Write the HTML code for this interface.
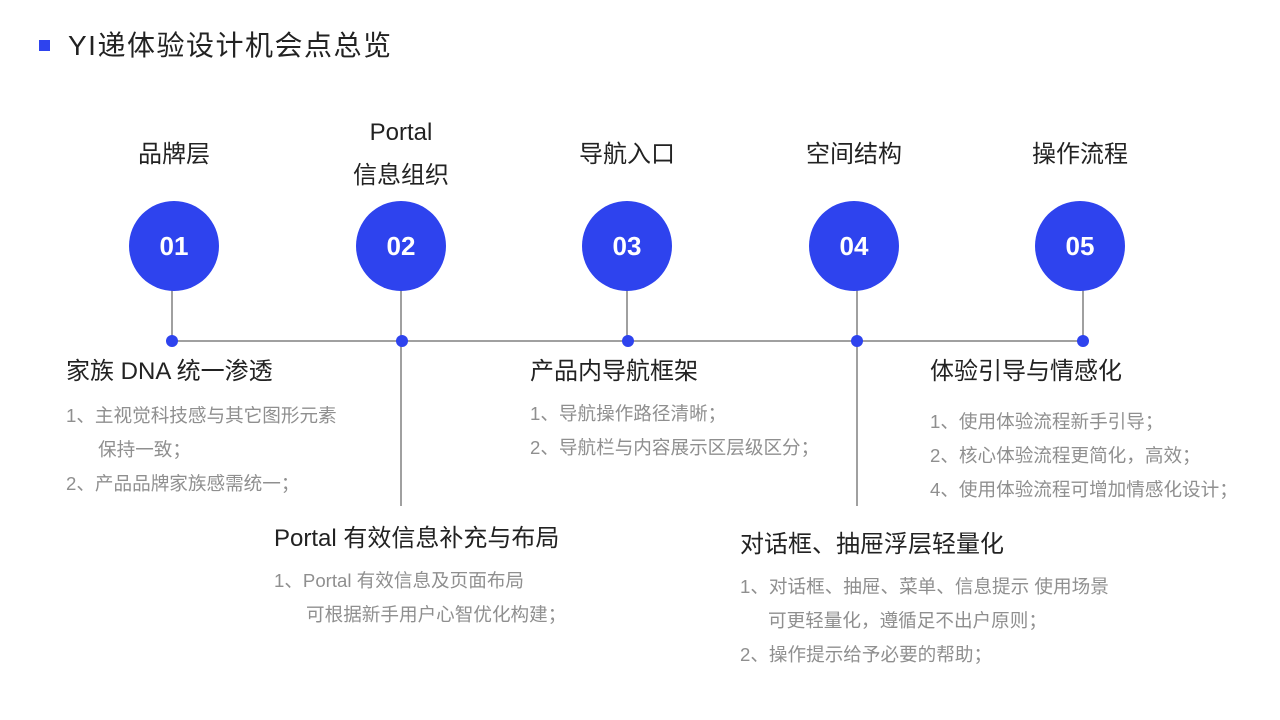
<!DOCTYPE html>
<html><head><meta charset="utf-8"><style>
*{margin:0;padding:0;box-sizing:border-box}
body{width:1280px;height:720px;background:#fff;position:relative;overflow:hidden;font-family:"Liberation Sans","Noto Sans CJK SC",sans-serif}
.t{position:absolute;white-space:nowrap;line-height:30px;height:30px}
.h{font-size:24px;color:#222}
.g{font-size:18.6px;color:#8f8f8f}
.c{position:absolute;width:90px;height:90px;border-radius:50%;background:#2e43ee;color:#fff;font-weight:bold;font-size:26px;display:flex;align-items:center;justify-content:center;top:201px}
.v{position:absolute;width:2px;background:#a0a0a0}
.d{position:absolute;width:12px;height:12px;border-radius:50%;background:#2e43ee;top:335px}
.lab{position:absolute;width:200px;text-align:center;font-size:24px;color:#222;line-height:30px}
</style></head><body>
<div style="position:absolute;left:39px;top:40px;width:11px;height:11px;background:#2e43ee"></div>
<div class="t" style="left:68px;top:31px;font-size:28px;letter-spacing:1.5px;color:#222">YI递体验设计机会点总览</div>

<div class="v" style="left:172px;top:340px;width:912px;height:2px"></div>
<div class="v" style="left:171px;top:290px;height:50px"></div>
<div class="v" style="left:400px;top:290px;height:216px"></div>
<div class="v" style="left:626px;top:290px;height:50px"></div>
<div class="v" style="left:856px;top:290px;height:216px"></div>
<div class="v" style="left:1082px;top:290px;height:50px"></div>

<div class="c" style="left:129px">01</div>
<div class="c" style="left:356px">02</div>
<div class="c" style="left:582px">03</div>
<div class="c" style="left:809px">04</div>
<div class="c" style="left:1035px">05</div>

<div class="d" style="left:166px"></div>
<div class="d" style="left:396px"></div>
<div class="d" style="left:622px"></div>
<div class="d" style="left:851px"></div>
<div class="d" style="left:1077px"></div>

<div class="lab" style="left:74px;top:140px">品牌层</div>
<div class="lab" style="left:301px;top:118px">Portal</div>
<div class="lab" style="left:301px;top:161px">信息组织</div>
<div class="lab" style="left:527px;top:140px">导航入口</div>
<div class="lab" style="left:754px;top:140px">空间结构</div>
<div class="lab" style="left:980px;top:140px">操作流程</div>

<div class="t h" style="left:66px;top:357px">家族 DNA 统一渗透</div>
<div class="t g" style="left:66px;top:401px">1、主视觉科技感与其它图形元素</div>
<div class="t g" style="left:98px;top:435px">保持一致；</div>
<div class="t g" style="left:66px;top:469px">2、产品品牌家族感需统一；</div>

<div class="t h" style="left:274px;top:524px">Portal 有效信息补充与布局</div>
<div class="t g" style="left:274px;top:566px">1、Portal 有效信息及页面布局</div>
<div class="t g" style="left:306px;top:600px">可根据新手用户心智优化构建；</div>

<div class="t h" style="left:530px;top:357px">产品内导航框架</div>
<div class="t g" style="left:530px;top:399px">1、导航操作路径清晰；</div>
<div class="t g" style="left:530px;top:433px">2、导航栏与内容展示区层级区分；</div>

<div class="t h" style="left:740px;top:530px">对话框、抽屉浮层轻量化</div>
<div class="t g" style="left:740px;top:572px">1、对话框、抽屉、菜单、信息提示 使用场景</div>
<div class="t g" style="left:768px;top:606px">可更轻量化，遵循足不出户原则；</div>
<div class="t g" style="left:740px;top:640px">2、操作提示给予必要的帮助；</div>

<div class="t h" style="left:930px;top:357px">体验引导与情感化</div>
<div class="t g" style="left:930px;top:407px">1、使用体验流程新手引导；</div>
<div class="t g" style="left:930px;top:441px">2、核心体验流程更简化，高效；</div>
<div class="t g" style="left:930px;top:475px">4、使用体验流程可增加情感化设计；</div>
</body></html>
